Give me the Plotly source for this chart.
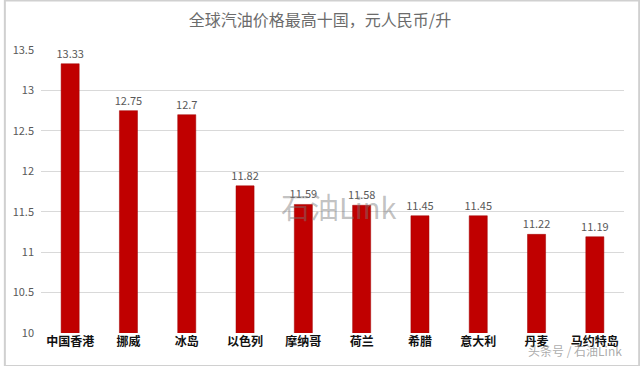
import plotly.graph_objects as go

countries = ["中国香港", "挪威", "冰岛", "以色列", "摩纳哥", "荷兰", "希腊", "意大利", "丹麦", "马约特岛"]
prices = [13.33, 12.75, 12.7, 11.82, 11.59, 11.58, 11.45, 11.45, 11.22, 11.19]
yticks = [10, 10.5, 11, 11.5, 12, 12.5, 13, 13.5]

fig = go.Figure()
fig.add_trace(go.Bar(
    x=countries, y=prices,
    marker=dict(color="#C00000", line=dict(color="#A00000", width=0.5)),
    text=[f"{v:g}" for v in prices], textposition="outside", constraintext="none",
    textfont=dict(color="#595959", size=11),
    cliponaxis=False,
))
fig.update_layout(
    width=640, height=366,
    margin=dict(l=41, r=16, t=50, b=33),
    paper_bgcolor="white", plot_bgcolor="white",
    title=dict(text="全球汽油价格最高十国，元人民币/升", x=0.5, xanchor="center", y=0.945, yanchor="middle",
               font=dict(size=16, color="#6b6b6b", family="Noto Sans CJK SC")),
    bargap=0.69,
    showlegend=False,
    font=dict(family="Noto Sans CJK SC"),
    xaxis=dict(showline=False, ticks="", tickfont=dict(size=12, color="#111111", family="Noto Sans CJK SC", weight="bold")),
    yaxis=dict(range=[10, 13.5], tickvals=yticks, ticktext=[f"{v:g}" for v in yticks],
               showgrid=True, gridcolor="#d9d9d9", gridwidth=1, zeroline=False,
               tickfont=dict(size=11, color="#595959"), ticks="", ticklabelstandoff=6),
    shapes=[dict(type="rect", xref="paper", yref="paper", x0=-0.062, x1=1.026, y0=-0.117, y1=1.175,
                 line=dict(color="#d0d0d0", width=2))],
    annotations=[
        dict(text="石油Link", x=0.51, y=0.45, xref="paper", yref="paper", showarrow=False,
             font=dict(size=29, color="rgba(120,120,120,0.45)", family="Noto Sans CJK SC")),
        dict(text="头条号 / 石油Link", x=1.0, y=-0.1, xref="paper", yref="paper", xanchor="right", showarrow=False,
             font=dict(size=12, color="rgba(150,150,150,0.8)")),
    ],
)
fig.write_html("out.html", config={"displayModeBar": False},
               post_script="document.body.style.margin='0';document.body.style.overflow='hidden';")
